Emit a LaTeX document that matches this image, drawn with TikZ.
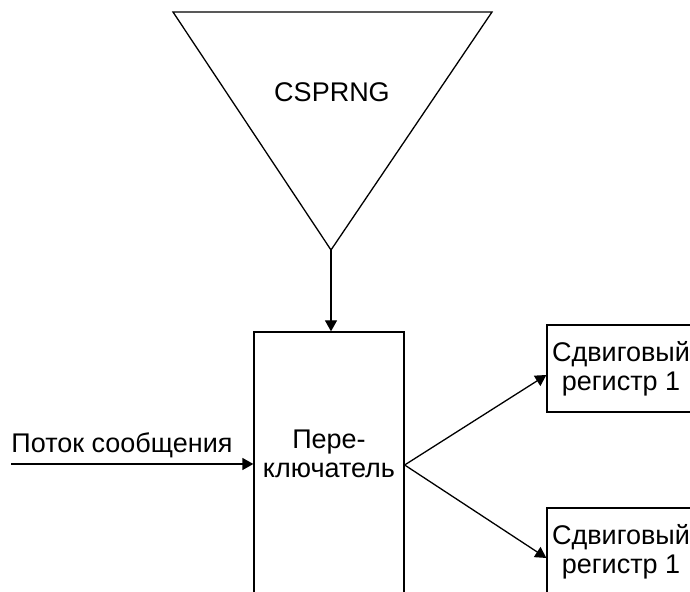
\documentclass[tikz,border=0pt]{standalone}
\usepackage{fontspec}
\setmainfont{Liberation Sans}
\usetikzlibrary{positioning,arrows.meta}

\tikzset{
    block/.style={draw, line width=0.65pt, inner sep=0pt},
    flow/.style={->, line width=0.65pt}
}

\begin{document}
\begin{tikzpicture}[>={Triangle[length=5.5pt,width=6pt]}, x=0.5pt, y=0.5pt,
    every node/.style={font=\fontsize{13.5}{14.5}\selectfont}]
    \useasboundingbox (0,0) rectangle (690,592);
    \clip (0,0) rectangle (690,592);

    % generator
    \draw[line width=0.65pt, line join=miter] (173,580) -- (492,580) -- (331,342) -- cycle;
    \coordinate (gen_apex) at (331,342);
    \node (gen) at (332,500) {CSPRNG};

    % switch
    \node[block, minimum width=75pt, minimum height=133pt] (switch) at (329,127) {};
    \node[align=center] (switch_text) at (329,138) {Пере-\\ключатель};

    % message stream
    \coordinate (msg_in) at (11,128);
    \node[anchor=base west, inner sep=0pt] (msg) at (11,139) {Поток сообщения};

    % shift registers
    \node[block, minimum width=74pt, minimum height=43.5pt, align=center] (reg_A) at (621,223.5) {Сдвиговый\\регистр 1};
    \node[block, minimum width=74pt, minimum height=43.5pt, align=center] (reg_B) at (621,40.5) {Сдвиговый\\регистр 1};

    \draw[flow] (gen_apex) -- (gen_apex |- switch.north);
    \draw[flow] (msg_in) -- (msg_in -| switch.west);
    \draw[flow] (switch.east) -- ([yshift=-3.25pt]reg_A.west);
    \draw[flow] (switch.east) -- ([yshift=-3.25pt]reg_B.west);
\end{tikzpicture}
\end{document}
